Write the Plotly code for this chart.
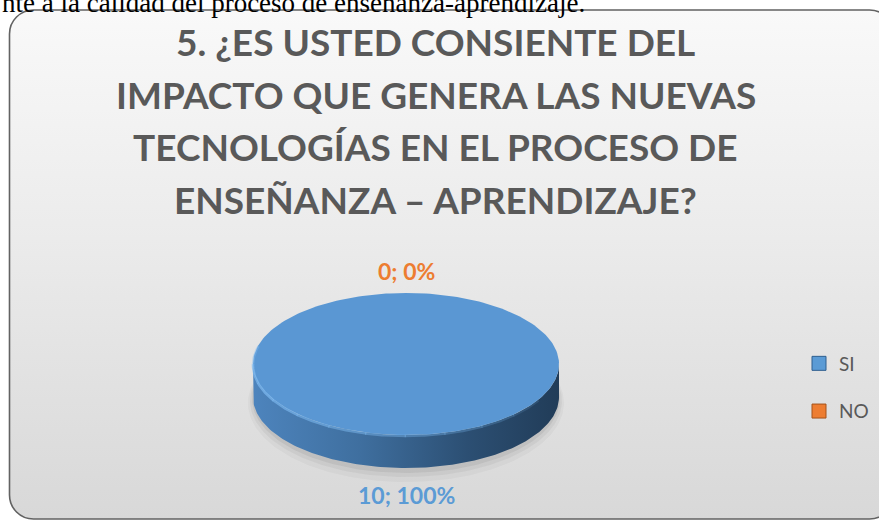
import base64
import numpy as np
import plotly.graph_objects as go

# ---------------- data ----------------
labels = ["SI", "NO"]
values = [10, 0]
colors = ["#5B9BD5", "#ED7D31"]
title_lines = [
    "5. ¿ES USTED CONSIENTE DEL",
    "IMPACTO QUE GENERA LAS NUEVAS",
    "TECNOLOGÍAS EN EL PROCESO DE",
    "ENSEÑANZA – APRENDIZAJE?",
]
page_text = "nte a la calidad del proceso de enseñanza-aprendizaje."

# ---------------- layout constants ----------------
W, H = 879, 521
CX, CY = 406, 364          # centre of pie top face (pixel axis units)
RX, RY = 153, 71           # ellipse radii
DEPTH = 33                 # 3D thickness
LABEL_PAD = 25
TITLE_X = 435.5
TITLE_Y = [41.5, 94, 146.5, 199.5]
TITLE_SIZE = 37
FONT_BOLD = "Lato"
GRAY = "#595959"


def ell(t_deg, dy=0.0):
    t = np.radians(t_deg)
    return CX + RX * np.sin(t), CY - RY * np.cos(t) + dy


fig = go.Figure()

# soft shadow under the pie (mostly below the base)
for kx, ky, dy, a in [(5, 8, 6, 0.03), (3, 5, 4, 0.045), (1, 3, 2, 0.06)]:
    t = np.linspace(0, 360, 241)
    x, y = ell(t, dy=DEPTH)
    x = CX + (x - CX) * (1 + kx / RX)
    y = CY + DEPTH + dy + (y - CY - DEPTH) * (1 + ky / RY)
    fig.add_trace(go.Scatter(x=x, y=y, mode="lines", fill="toself", line=dict(width=0),
                             fillcolor=f"rgba(0,0,0,{a})", hoverinfo="skip", showlegend=False))

total = float(sum(values))
start = 0.0
slices = []
for lab, v, c in zip(labels, values, colors):
    frac = v / total if total else 0
    a0, a1 = start, start + 360 * frac
    slices.append((lab, v, c, a0, a1, frac))
    start = a1

# side walls (front half of the visible arc)
for lab, v, c, a0, a1, frac in slices:
    if a1 - a0 <= 0:
        continue
    s, e = max(a0, 90), min(a1, 270)
    if e <= s:
        continue
    t = np.linspace(s, e, 160)
    xt, yt = ell(t)
    xb, yb = ell(t[::-1], dy=DEPTH)
    x = np.concatenate([xt, xb])
    y = np.concatenate([yt, yb])
    fig.add_trace(go.Scatter(
        x=x, y=y, mode="lines", fill="toself", line=dict(width=0),
        fillgradient=dict(type="horizontal",
                          colorscale=[[0, "#4d84bd"], [0.35, "#3f6f9f"], [0.7, "#2c4f73"], [1, "#213c58"]]),
        hoverinfo="skip", showlegend=False))

# top faces
for lab, v, c, a0, a1, frac in slices:
    if a1 - a0 <= 0:
        continue
    t = np.linspace(a0, a1, 241)
    xt, yt = ell(t)
    if a1 - a0 < 360:
        xt = np.concatenate([[CX], xt, [CX]])
        yt = np.concatenate([[CY], yt, [CY]])
    fig.add_trace(go.Scatter(x=xt, y=yt, mode="lines", fill="toself",
                             line=dict(width=0), fillcolor="#5a97d3",
                             hoverinfo="skip", showlegend=False))
    # bevel highlight along the front-left rim, fading towards the right
    s, e = max(a0, 120), min(a1, 285)
    if e > s:
        edges = np.linspace(s, e, 12)
        for i in range(len(edges) - 1):
            frac_pos = i / (len(edges) - 2)
            alpha = 0.15 + 0.7 * frac_pos if frac_pos < 0.85 else 0.85 - (frac_pos - 0.85) * 3
            tb = np.linspace(edges[i], edges[i + 1] + 0.5, 20)
            xb, yb = ell(tb, dy=1)
            fig.add_trace(go.Scatter(x=xb, y=yb, mode="lines",
                                     line=dict(width=2.5, color=f"rgba(125,185,240,{max(alpha, 0.1):.2f})"),
                                     hoverinfo="skip", showlegend=False))

# data labels
annotations = []
for lab, v, c, a0, a1, frac in slices:
    mid = (a0 + a1) / 2 if a1 > a0 else a0
    t = np.radians(mid)
    lx = CX + (RX + LABEL_PAD) * np.sin(t)
    ly = CY - (RY + LABEL_PAD) * np.cos(t)
    if np.cos(t) < 0:
        ly += DEPTH + 2
    else:
        ly += 3
    annotations.append(dict(x=lx, y=ly, xref="x", yref="y", showarrow=False,
                            text=f"<b>{v:g}; {frac * 100:.0f}%</b>",
                            font=dict(family=FONT_BOLD, size=23, color=c)))

# legend entries
for lab, c, lc in zip(labels, colors, ["#2f5f8f", "#a5521a"]):
    fig.add_trace(go.Scatter(x=[None], y=[None], mode="markers", name=lab, legendgroup=lab,
                             marker=dict(symbol="square", size=14, color=c,
                                         line=dict(width=1, color=lc))))

# title lines
for txt, yy in zip(title_lines, TITLE_Y):
    annotations.append(dict(x=TITLE_X, y=yy, xref="x", yref="y", showarrow=False,
                            text=f"<b>{txt}</b>",
                            font=dict(family=FONT_BOLD, size=TITLE_SIZE, color=GRAY)))

# clipped line of document text above the chart (cut off at the top, as in the reference)
annotations.append(dict(x=0, y=1 - 3 / H, xref="paper", yref="paper", xanchor="left", yanchor="middle",
                        showarrow=False, text=page_text,
                        font=dict(family="Liberation Serif", size=27, color="#000000")))

# background: rounded frame with vertical gradient
svg = f"""<svg xmlns='http://www.w3.org/2000/svg' width='{W}' height='{H}' viewBox='0 0 {W} {H}' preserveAspectRatio='none'>
<defs><linearGradient id='g' x1='0' y1='0' x2='0' y2='1'>
<stop offset='0' stop-color='#f9f9f9'/><stop offset='0.45' stop-color='#ebebeb'/><stop offset='1' stop-color='#d8d8d8'/>
</linearGradient></defs>
<rect x='9.5' y='10' width='884' height='509' rx='24' ry='24' fill='url(#g)' stroke='#626262' stroke-width='1.6'/>
</svg>"""
src = "data:image/svg+xml;base64," + base64.b64encode(svg.encode("utf-8")).decode("ascii")

fig.update_layout(
    width=W, height=H,
    margin=dict(l=0, r=0, t=0, b=0),
    paper_bgcolor="white", plot_bgcolor="rgba(0,0,0,0)",
    xaxis=dict(range=[0, W], visible=False, fixedrange=True),
    yaxis=dict(range=[H, 0], visible=False, fixedrange=True),
    images=[dict(source=src, xref="paper", yref="paper", x=0, y=1, sizex=1, sizey=1,
                 xanchor="left", yanchor="top", sizing="stretch", layer="below")],
    annotations=annotations,
    showlegend=True,
    legend=dict(x=799 / W, y=1 - 387.5 / H, xanchor="left", yanchor="middle",
                bgcolor="rgba(0,0,0,0)", tracegroupgap=20,
                font=dict(family=FONT_BOLD, size=19, color=GRAY)),
)

fig.write_html("out.html", config={"displayModeBar": False},
               post_script="document.body.style.margin='0';document.body.style.overflow='hidden';")
